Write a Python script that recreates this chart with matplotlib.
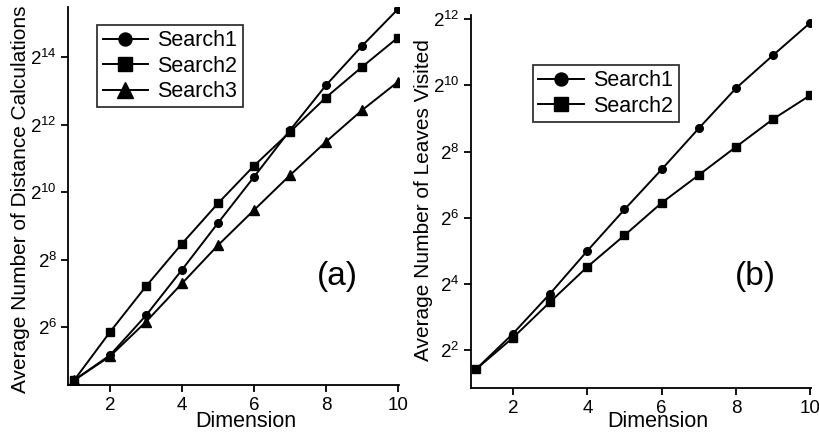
import math
import matplotlib
matplotlib.use("Agg")
import matplotlib.pyplot as plt
from matplotlib.ticker import FixedLocator, FuncFormatter, NullLocator

plt.rcParams['font.family'] = ['Liberation Sans', 'DejaVu Sans']
plt.rcParams['mathtext.fontset'] = 'custom'
plt.rcParams['mathtext.rm'] = 'Liberation Sans'
plt.rcParams['mathtext.it'] = 'Liberation Sans'

# data
dims = [1, 2, 3, 4, 5, 6, 7, 8, 9, 10]

# (a) average number of distance calculations
dist_search1 = [21.7, 36.3, 82.1, 209, 545, 1399, 3641, 9153, 20452, 43540]
dist_search2 = [21.7, 58.5, 149, 357, 815, 1758, 3517, 7132, 13308, 24322]
dist_search3 = [21.7, 35.5, 72, 158, 345, 709, 1448, 2876, 5480, 9810]

# (b) average number of leaves visited
leaf_search1 = [2.68, 5.66, 13.1, 32, 76.1, 176, 416, 962, 1924, 3795]
leaf_search2 = [2.68, 5.2, 11.0, 22.9, 44.3, 87.4, 156.5, 282, 505, 832]

x_ticks = [2, 4, 6, 8, 10]
a_exps = [6, 8, 10, 12, 14]
b_exps = [2, 4, 6, 8, 10, 12]


def pow2_label(v, pos):
    e = int(round(math.log2(v)))
    return r'$2^{%d}$' % e


def style_axes(ax, exps):
    ax.set_yscale('log', base=2)
    ax.spines['top'].set_visible(False)
    ax.spines['right'].set_visible(False)
    ax.spines['left'].set_linewidth(1.3)
    ax.spines['bottom'].set_linewidth(1.3)
    ax.set_xticks(x_ticks)
    ax.yaxis.set_major_locator(FixedLocator([2 ** e for e in exps]))
    ax.yaxis.set_major_formatter(FuncFormatter(pow2_label))
    ax.yaxis.set_minor_locator(NullLocator())
    ax.tick_params(direction='out', length=5, width=1.3, labelsize=13.5)
    ax.tick_params(axis='y', labelsize=13.5, pad=3)


def add_legend(ax, anchor):
    leg = ax.legend(loc='upper left', bbox_to_anchor=anchor, fontsize=15.5,
                    frameon=True, fancybox=False, edgecolor='black', markerscale=1.7,
                    handlelength=2.1, borderpad=0.25, labelspacing=0.2,
                    handletextpad=0.45, borderaxespad=0)
    leg.get_frame().set_linewidth(1.3)
    return leg


fig = plt.figure(figsize=(8.2, 4.32), dpi=100)
ax1 = fig.add_axes([0.083, 0.109, 0.403, 0.875])
ax2 = fig.add_axes([0.574, 0.102, 0.415, 0.863])

ax1.plot(dims, dist_search1, color='black', lw=1.4, marker='o', ms=5.5, label='Search1')
ax1.plot(dims, dist_search2, color='black', lw=1.4, marker='s', ms=6, label='Search2')
ax1.plot(dims, dist_search3, color='black', lw=1.4, marker='^', ms=6.5, label='Search3')
style_axes(ax1, a_exps)
ax1.set_xlim(0.83, 10.02)
ax1.set_ylim(2 ** 4.3, 2 ** 15.48)
ax1.set_xlabel('Dimension', fontsize=15.5)
ax1.xaxis.set_label_coords(0.538, -0.068)
ax1.set_ylabel('Average Number of Distance Calculations', fontsize=15, va='center')
ax1.yaxis.set_label_coords(-0.145, 0.49)
ax1.text(0.815, 0.288, '(a)', transform=ax1.transAxes, fontsize=24, ha='center', va='center')
add_legend(ax1, (0.088, 0.952))

ax2.plot(dims, leaf_search1, color='black', lw=1.4, marker='o', ms=5.5, label='Search1')
ax2.plot(dims, leaf_search2, color='black', lw=1.4, marker='s', ms=6, label='Search2')
style_axes(ax2, b_exps)
ax2.set_xlim(0.86, 10.02)
ax2.set_ylim(2 ** 0.86, 2 ** 12.12)
ax2.set_xlabel('Dimension', fontsize=15.5)
ax2.xaxis.set_label_coords(0.549, -0.062)
ax2.set_ylabel('Average Number of Leaves Visited', fontsize=15, va='center')
ax2.yaxis.set_label_coords(-0.14, 0.504)
ax2.text(0.838, 0.298, '(b)', transform=ax2.transAxes, fontsize=24, ha='center', va='center')
add_legend(ax2, (0.183, 0.866))

fig.savefig('out.png', dpi=100)
